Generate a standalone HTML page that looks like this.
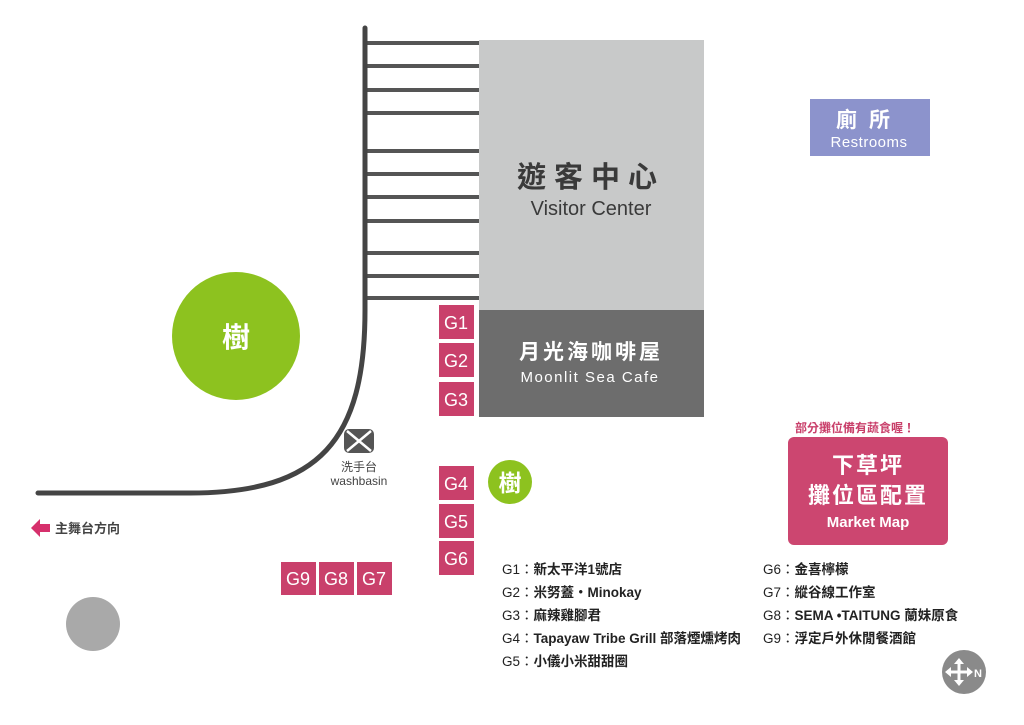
<!DOCTYPE html>
<html><head><meta charset="utf-8"><style>
html,body{margin:0;padding:0;background:#fff;}
svg{display:block;}
text{font-family:"Liberation Sans","Noto Sans CJK TC",sans-serif;}
</style></head><body>
<svg width="1024" height="725" viewBox="0 0 1024 725" xmlns="http://www.w3.org/2000/svg">
<rect width="1024" height="725" fill="#fff"/>
<rect x="479" y="40" width="225" height="270" fill="#c8c9c9"/>
<rect x="479" y="310" width="225" height="107" fill="#6d6d6d"/>
<text x="591" y="187" font-size="29" font-weight="bold" fill="#3a3a3a" text-anchor="middle" letter-spacing="8">遊客中心</text>
<text x="591" y="215" font-size="20" fill="#3a3a3a" text-anchor="middle">Visitor Center</text>
<text x="591" y="359" font-size="21" font-weight="bold" fill="#fff" text-anchor="middle" letter-spacing="3">月光海咖啡屋</text>
<text x="590" y="382" font-size="15" fill="#fff" text-anchor="middle" letter-spacing="1.5">Moonlit Sea Cafe</text>
<g stroke="#555" stroke-width="4">
<line x1="479" y1="43" x2="365" y2="43"/><line x1="479" y1="66" x2="365" y2="66"/>
<line x1="479" y1="90" x2="365" y2="90"/><line x1="479" y1="113" x2="365" y2="113"/>
<line x1="479" y1="151" x2="365" y2="151"/><line x1="479" y1="174" x2="365" y2="174"/>
<line x1="479" y1="197" x2="365" y2="197"/><line x1="479" y1="221" x2="365" y2="221"/>
<line x1="479" y1="253" x2="365" y2="253"/><line x1="479" y1="276" x2="365" y2="276"/>
<line x1="479" y1="298" x2="365" y2="298"/>
</g>
<path d="M365 28 V310 C365 440 320 493 190 493 L38 493" fill="none" stroke="#444" stroke-width="5" stroke-linecap="round"/>
<circle cx="236" cy="336" r="64" fill="#8dc21f"/>
<text x="236" y="347" font-size="28" font-weight="bold" fill="#fff" text-anchor="middle">樹</text>
<circle cx="510" cy="482" r="22" fill="#8dc21f"/>
<text x="510" y="491" font-size="23" font-weight="bold" fill="#fff" text-anchor="middle">樹</text>
<rect x="344" y="429" width="30" height="24" rx="5" fill="#555"/>
<path d="M347 431 L371 451 M371 431 L347 451" stroke="#fff" stroke-width="2.5"/>
<text x="359" y="471" font-size="12" fill="#444" text-anchor="middle">洗手台</text>
<text x="359" y="485" font-size="12" fill="#444" text-anchor="middle">washbasin</text>
<g fill="#c9406b">
<rect x="439" y="305" width="35" height="34"/><rect x="439" y="343" width="35" height="34"/>
<rect x="439" y="382" width="35" height="34"/><rect x="439" y="466" width="35" height="34"/>
<rect x="439" y="504" width="35" height="34"/><rect x="439" y="541" width="35" height="34"/>
<rect x="281" y="562" width="35" height="33"/><rect x="319" y="562" width="35" height="33"/>
<rect x="357" y="562" width="35" height="33"/>
</g>
<g fill="#fff" font-size="18" text-anchor="middle">
<text x="456" y="329">G1</text><text x="456" y="367">G2</text><text x="456" y="406">G3</text>
<text x="456" y="490">G4</text><text x="456" y="528">G5</text><text x="456" y="565">G6</text>
<text x="298" y="585">G9</text><text x="336" y="585">G8</text><text x="374" y="585">G7</text>
</g>
<rect x="810" y="99" width="120" height="57" fill="#8c93cc"/>
<text x="869" y="127" font-size="21" font-weight="bold" fill="#fff" text-anchor="middle" letter-spacing="12">廁所</text>
<text x="869" y="147" font-size="15" fill="#fff" text-anchor="middle" letter-spacing="0.5">Restrooms</text>
<text x="855" y="432" font-size="12" font-weight="bold" fill="#c9406b" text-anchor="middle">部分攤位備有蔬食喔！</text>
<rect x="788" y="437" width="160" height="108" rx="6" fill="#cc4670"/>
<text x="868" y="473" font-size="22" font-weight="bold" fill="#fff" text-anchor="middle" letter-spacing="2">下草坪</text>
<text x="868" y="503" font-size="22" font-weight="bold" fill="#fff" text-anchor="middle" letter-spacing="2">攤位區配置</text>
<text x="868" y="527" font-size="15" font-weight="bold" fill="#fff" text-anchor="middle">Market Map</text>
<path d="M31 528 L40 519 L40 524 L50 524 L50 532 L40 532 L40 537 Z" fill="#d6306c"/>
<text x="55" y="533" font-size="13" font-weight="bold" fill="#444">主舞台方向</text>
<circle cx="93" cy="624" r="27" fill="#a9a9a9"/>
<g font-size="13.5" fill="#222">
<text x="502" y="574">G1：<tspan font-weight="bold">新太平洋1號店</tspan></text>
<text x="502" y="597">G2：<tspan font-weight="bold">米努蓋‧Minokay</tspan></text>
<text x="502" y="620">G3：<tspan font-weight="bold">麻辣雞腳君</tspan></text>
<text x="502" y="643">G4：<tspan font-weight="bold">Tapayaw Tribe Grill 部落煙燻烤肉</tspan></text>
<text x="502" y="666">G5：<tspan font-weight="bold">小儀小米甜甜圈</tspan></text>
<text x="763" y="574">G6：<tspan font-weight="bold">金喜檸檬</tspan></text>
<text x="763" y="597">G7：<tspan font-weight="bold">縱谷線工作室</tspan></text>
<text x="763" y="620">G8：<tspan font-weight="bold">SEMA •TAITUNG 蘭妹原食</tspan></text>
<text x="763" y="643">G9：<tspan font-weight="bold">浮定戶外休閒餐酒館</tspan></text>
</g>
<circle cx="964" cy="672" r="22" fill="#8a8a8a"/>
<path d="M947 672 H971 M959 660 V684" stroke="#fff" stroke-width="3"/>
<path d="M945 672 L951 667 L951 677 Z M973 672 L967 667 L967 677 Z M959 658 L954 664 L964 664 Z M959 686 L954 680 L964 680 Z" fill="#fff"/>
<text x="978" y="677" font-size="11" font-weight="bold" fill="#fff" text-anchor="middle">N</text>
</svg>
</body></html>
